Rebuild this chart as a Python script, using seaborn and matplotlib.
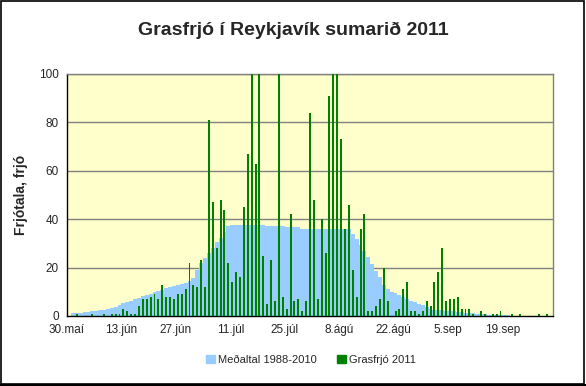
import numpy as np
import pandas as pd
import matplotlib
matplotlib.use("Agg")
import matplotlib.pyplot as plt
import matplotlib.patches as mpatches
import seaborn as sns

# days counted from 30. maí (day 0) to 1. okt (day 124)
tick_days = [0, 14, 28, 42, 56, 70, 84, 98, 112]
tick_labels = ["30.maí", "13.jún", "27.jún", "11.júl", "25.júl",
               "8.ágú", "22.ágú", "5.sep", "19.sep"]

# Grasfrjó 2011, daily counts (values above 100 run off the top)
pollen_2011 = [
    0, 0, 1, 0, 0, 0, 1, 0, 0, 1,
    0, 1, 1, 1, 3, 2, 1, 1, 4, 7,
    7, 8, 9, 7, 13, 8, 8, 7, 9, 9,
    11, 22, 13, 12, 23, 12, 81, 47, 28, 48,
    44, 22, 14, 18, 16, 45, 67, 105, 63, 105,
    25, 5, 23, 6, 105, 8, 3, 42, 6, 7,
    2, 6, 84, 48, 7, 40, 26, 91, 105, 100,
    73, 36, 46, 19, 8, 36, 42, 2, 2, 4,
    7, 20, 6, 0, 2, 3, 11, 14, 2, 2,
    1, 2, 6, 4, 14, 18, 28, 6, 7, 7,
    8, 3, 3, 3, 1, 0, 2, 1, 0, 1,
    1, 2, 0, 0, 1, 0, 1, 0, 0, 0,
    0, 1, 0, 1, 0,
]

# Meðaltal 1988-2010, daily mean
pollen_mean = [
    0, 1.1, 1.1, 1.3, 1.5, 1.5, 2.1, 2.1, 2.6, 2.6,
    3.0, 3.4, 3.9, 4.6, 5.2, 5.8, 6.3, 6.9, 7.6, 8.1,
    8.7, 9.2, 9.8, 10.3, 10.9, 11.4, 12.0, 12.4, 12.9, 13.3,
    13.8, 14.4, 15.5, 19.0, 21.7, 23.9, 26.2, 28.2, 30.4, 32.2,
    34.8, 37.1, 37.5, 37.5, 37.5, 37.5, 37.5, 37.5, 37.5, 37.5,
    37.5, 37.0, 37.0, 37.0, 37.0, 37.0, 36.6, 36.6, 36.6, 36.6,
    36.0, 36.0, 36.0, 36.0, 36.0, 36.0, 36.0, 36.0, 36.0, 36.0,
    36.0, 36.0, 36.0, 34.0, 32.0, 29.5, 27.0, 24.5, 21.5, 18.5,
    16.0, 13.0, 11.0, 10.0, 9.4, 8.7, 7.8, 7.0, 6.3, 5.6,
    5.0, 4.4, 3.7, 3.0, 2.6, 2.4, 2.3, 2.2, 2.1, 1.9,
    1.8, 1.8, 1.4, 1.2, 1.1, 0.9, 0.8, 0.8, 0.6, 0.5,
    0.5, 0.4, 0.4, 0.3, 0, 0, 0, 0, 0, 0,
    0, 0, 0, 0, 0,
]

days = np.arange(len(pollen_2011))
df = pd.DataFrame({"dagur": days, "frjo": pollen_2011, "medaltal": pollen_mean})

sns.set_style("white")
plt.rcParams["font.family"] = ["Liberation Sans", "DejaVu Sans"]

blue = "#99CCFF"
green = "#008000"

fig = plt.figure(figsize=(5.86, 3.86), dpi=100)
ax = fig.add_axes([67 / 586, 1 - 316 / 386, 486 / 586, 242 / 386])
ax.set_facecolor("#FFFFCC")

# grid lines
for yv in [20, 40, 60, 80, 100]:
    ax.axhline(yv, color="#808080", lw=1, zorder=1)

ax.fill_between(df["dagur"], 0, df["medaltal"], color=blue, lw=0,
                step="mid", zorder=2)
sns.barplot(data=df, x="dagur", y="frjo", native_scale=True, color=green,
            width=0.5, saturation=1, ax=ax, zorder=3, edgecolor="none")

ax.set_xlim(-0.5, len(days) - 0.5)
ax.set_ylim(0, 100)
ax.set_yticks([0, 20, 40, 60, 80, 100])
ax.set_xticks([d - 0.5 for d in tick_days])
ax.set_xticklabels(tick_labels)
ax.tick_params(axis="both", direction="inout", length=6, width=1,
               labelsize=8.5, color="black", pad=3)
ax.set_xlabel("")
ax.set_ylabel("Frjótala, frjó", fontsize=10, fontweight="bold", labelpad=8)

for side in ["top", "right"]:
    ax.spines[side].set_color("#808080")
for side in ["left", "bottom"]:
    ax.spines[side].set_color("black")
for sp in ax.spines.values():
    sp.set_linewidth(1)

fig.text(0.5, 1 - 30 / 386, "Grasfrjó í Reykjavík sumarið 2011",
         ha="center", va="center", fontsize=14, fontweight="bold")

handles = [mpatches.Patch(color=blue, label="Meðaltal 1988-2010"),
           mpatches.Patch(color=green, label="Grasfrjó 2011")]
fig.legend(handles=handles, loc="center", bbox_to_anchor=(311 / 586, 1 - 360 / 386),
           ncol=2, frameon=False, fontsize=8, handlelength=0.8,
           handleheight=0.8, handletextpad=0.3, columnspacing=1.8)

# outer chart border
fig.patches.append(mpatches.Rectangle((0.001, 0.004), 0.996, 0.994,
                                      transform=fig.transFigure, fill=False,
                                      edgecolor="black", lw=1.2))
fig.patches.append(mpatches.Rectangle((0.0, 0.0), 1.0, 0.006,
                                      transform=fig.transFigure,
                                      color="black", lw=0))

fig.savefig("out.png", dpi=100)
